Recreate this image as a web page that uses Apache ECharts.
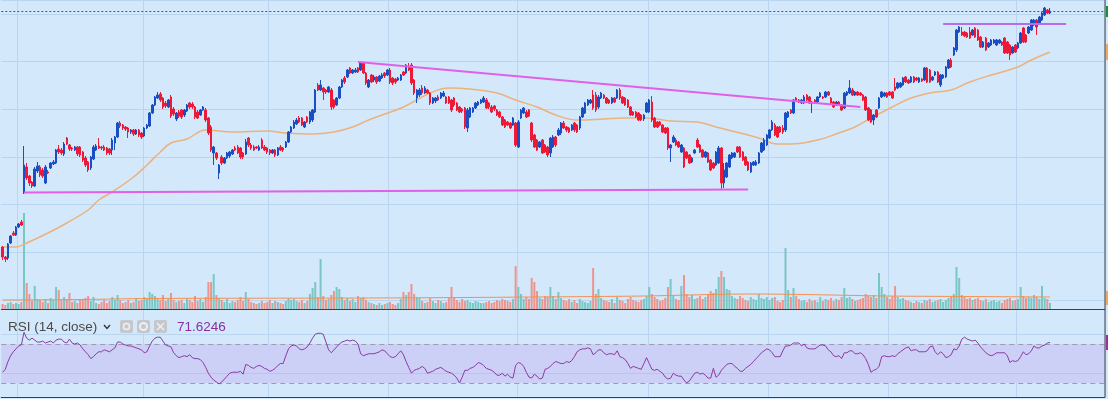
<!DOCTYPE html>
<html>
<head>
<meta charset="utf-8">
<script src="https://cdn.jsdelivr.net/npm/echarts@6.0.0/dist/echarts.min.js"></script>
<style>
  html, body { margin: 0; padding: 0; background: #d3e8fb; }
  #chart { width: 1108px; height: 399px; }
</style>
</head>
<body>
<div id="chart"></div>
<script>
// daily bars, [open, close, low, high]
const candles = [
  [53,43,40,54],[43,41,38,44],[42,56,40,57],[57,64,56,65],[67,65,64,69],[65,73,64,74],[73,76,72,77],[78,75,74,80],[107,135,106,154],[133,122,120,137],
  [124,117,114,125],[118,114,112,119],[114,131,113,133],[129,134,127,138],[133,125,123,135],[130,124,122,132],[117,133,116,135],[128,127,126,130],[132,137,131,138],[136,138,135,140],
  [137,150,136,151],[151,148,146,155],[150,147,145,152],[146,156,144,158],[162,156,155,163],[155,151,149,156],[152,151,149,153],[150,153,149,154],[153,146,144,154],[153,145,143,154],
  [148,140,138,149],[142,135,133,144],[138,130,128,139],[132,143,130,144],[141,153,140,155],[150,154,149,156],[154,152,151,162],[153,152,150,154],[153,150,149,155],[152,147,145,153],
  [151,147,145,152],[150,160,145,162],[157,163,150,164],[163,177,162,178],[177,174,172,179],[175,172,170,176],[173,171,169,174],[172,168,162,173],[168,170,166,171],[170,166,164,171],
  [166,170,165,171],[170,165,163,171],[167,163,161,168],[164,172,163,173],[172,175,171,176],[174,187,173,188],[187,195,186,196],[195,203,194,204],[202,205,201,208],[206,200,198,208],
  [202,193,191,203],[197,194,192,199],[193,200,192,201],[203,184,182,205],[191,186,184,193],[181,187,179,188],[188,184,182,190],[190,183,181,191],[185,190,183,191],[189,195,188,196],
  [197,193,191,198],[196,193,191,198],[193,183,181,194],[188,182,181,190],[185,190,184,191],[190,193,189,194],[190,180,178,192],[182,167,165,183],[173,150,148,175],[147,153,135,154],
  [147,142,140,148],[127,135,121,136],[143,137,135,145],[137,142,136,143],[142,147,141,148],[144,148,142,149],[146,150,145,151],[152,150,149,154],[153,147,146,155],[152,143,141,153],
  [147,143,141,148],[146,158,145,161],[162,155,153,163],[155,152,150,157],[153,150,149,155],[153,152,151,154],[150,153,149,155],[160,152,151,162],[153,150,149,155],[152,148,146,153],
  [150,147,145,151],[147,150,146,151],[150,145,143,151],[145,152,144,153],[153,150,149,155],[152,150,148,153],[153,158,152,159],[158,168,157,169],[168,173,167,174],[172,178,171,180],
  [176,180,175,182],[182,178,177,184],[182,175,174,183],[173,178,172,179],[183,178,177,184],[178,188,176,189],[180,190,178,191],[188,210,187,211],[215,210,209,217],[210,215,209,220],
  [212,208,200,213],[210,208,206,211],[208,213,207,214],[210,193,190,212],[200,193,191,201],[195,202,194,203],[202,213,201,214],[213,220,212,221],[222,218,216,224],[223,230,222,231],
  [232,227,226,233],[227,230,226,231],[228,230,227,232],[232,228,227,233],[230,237,229,238],[237,227,226,238],[227,217,215,228],[213,220,212,221],[225,218,217,226],[220,223,218,225],
  [223,218,216,224],[219,224,218,225],[222,225,221,227],[227,224,222,228],[225,230,224,231],[230,218,216,232],[222,217,215,223],[221,218,216,222],[220,222,219,223],[220,225,219,226],
  [228,225,224,229],[227,235,226,236],[233,230,229,237],[235,217,215,237],[220,207,205,221],[202,210,197,211],[205,210,203,212],[212,207,205,215],[207,212,206,214],[210,207,206,211],
  [207,197,195,208],[197,202,196,203],[199,202,197,203],[203,200,199,205],[202,207,201,208],[204,207,203,209],[203,197,196,204],[203,197,196,204],[200,190,188,201],[202,195,193,203],
  [197,190,189,198],[193,188,187,194],[191,189,187,192],[192,173,171,193],[172,190,168,192],[183,192,182,193],[188,192,187,193],[192,197,191,198],[195,198,194,199],[197,200,196,201],
  [198,202,197,204],[200,192,191,202],[197,193,191,198],[193,188,187,195],[194,191,189,195],[190,185,184,191],[188,183,182,189],[183,175,174,184],[180,173,172,181],[178,175,174,179],
  [177,172,171,178],[175,182,174,183],[177,155,153,178],[153,178,152,180],[182,190,181,191],[187,192,186,193],[188,183,182,190],[190,184,183,191],[177,160,158,178],[165,153,152,166],
  [160,150,149,161],[153,158,152,159],[160,147,146,161],[155,148,147,156],[153,145,143,154],[147,162,143,163],[153,163,152,165],[163,155,153,164],[165,170,164,172],[167,177,165,178],
  [177,172,171,179],[173,170,168,174],[172,168,167,173],[170,175,169,176],[177,170,168,178],[175,168,167,176],[172,183,170,184],[183,192,182,193],[187,197,186,198],[195,200,194,201],
  [197,200,196,201],[205,192,190,210],[205,190,188,208],[193,203,191,205],[202,207,201,208],[205,202,201,206],[202,197,196,203],[200,197,196,201],[197,202,196,203],[202,198,197,203],
  [202,210,201,211],[210,202,200,212],[203,197,196,204],[202,195,194,203],[200,193,192,201],[193,185,184,194],[188,185,184,189],[188,183,182,189],[187,180,179,188],[185,180,179,186],
  [181,185,179,186],[188,197,187,198],[188,200,187,201],[198,180,178,204],[182,173,172,183],[178,173,172,179],[178,175,174,179],[175,168,167,176],[172,167,166,173],[172,152,150,173],
  [152,155,138,156],[158,163,157,165],[160,155,154,162],[158,153,152,159],[148,155,147,156],[152,133,132,153],[148,142,141,149],[145,137,136,146],[138,142,137,143],[147,150,146,151],
  [160,153,152,162],[155,148,147,156],[150,143,142,151],[143,148,142,149],[147,138,137,148],[140,130,129,141],[137,132,131,138],[135,148,134,149],[137,152,136,154],[152,117,110,153],
  [117,130,112,137],[123,137,122,138],[133,145,132,146],[142,147,141,148],[143,147,142,148],[153,148,147,154],[153,143,142,154],[148,140,139,149],[143,135,134,144],[138,130,129,139],
  [128,137,127,138],[135,138,134,139],[135,138,134,140],[137,147,136,148],[148,157,147,158],[150,160,149,162],[155,165,154,166],[162,170,161,171],[170,178,169,180],[175,165,164,177],
  [173,163,162,174],[173,168,167,174],[172,168,166,175],[170,187,168,188],[183,188,182,189],[190,187,186,191],[187,200,186,201],[202,200,199,203],[200,198,197,201],[197,200,196,201],
  [197,203,196,205],[205,200,199,206],[203,197,196,204],[197,198,187,199],[200,197,196,201],[198,203,197,204],[203,207,202,208],[203,202,201,204],[203,208,202,209],[208,205,204,209],
  [202,197,196,203],[198,193,192,199],[195,198,194,199],[198,195,194,199],[195,190,189,196],[192,207,191,208],[205,208,204,209],[207,212,206,220],[210,205,204,212],[205,208,204,209],
  [208,205,204,209],[207,205,204,208],[205,200,199,206],[203,190,189,204],[192,180,179,193],[190,178,177,191],[180,185,175,186],[190,183,182,191],[192,202,191,203],[203,208,202,209],
  [204,207,203,208],[207,203,202,208],[208,205,204,209],[208,202,201,209],[213,210,209,222],[212,217,211,218],[213,217,212,218],[215,222,214,223],[223,218,217,224],[220,217,216,221],
  [218,223,217,224],[223,218,217,224],[222,220,219,223],[218,222,217,223],[221,219,218,222],[220,232,219,233],[232,218,217,233],[230,218,217,231],[220,223,219,224],[225,228,224,229],
  [228,218,217,229],[215,225,213,226],[222,225,221,226],[223,233,222,234],[232,240,231,241],[240,233,232,242],[245,252,244,253],[250,270,248,271],[268,273,267,274],[268,265,264,273],
  [268,264,263,269],[267,263,262,268],[268,262,261,273],[265,270,264,271],[272,263,262,273],[270,260,259,271],[263,253,252,264],[253,258,252,259],[262,250,249,263],[253,257,252,258],
  [255,260,254,261],[257,260,256,261],[255,260,254,261],[257,260,256,261],[258,255,254,259],[262,247,246,263],[258,247,246,259],[255,245,240,256],[247,253,246,254],[255,248,247,256],
  [252,257,251,258],[257,267,256,268],[272,258,257,273],[265,258,257,266],[267,273,266,274],[270,280,269,281],[275,280,274,281],[280,273,265,281],[277,283,276,284],[280,287,279,288],
  [285,292,284,293],[290,287,286,291],[287,289,286,292]
];

const volumes = [
  50,40,60,70,50,60,50,70,960,260, 150,80,230,100,90,70,100,60,110,90,
  220,190,90,120,100,160,70,80,60,90, 100,110,130,80,120,60,50,70,90,60,
  80,120,90,140,90,60,70,90,60,70, 110,80,90,120,100,170,150,130,110,90,
  140,80,100,160,90,70,80,90,60,100, 90,70,130,80,100,70,120,270,270,350,
  140,110,90,70,100,60,80,70,90,120, 80,170,100,70,60,50,60,80,60,70,
  90,60,80,70,60,50,80,110,90,100, 80,70,90,60,80,150,210,270,120,500,
  130,90,100,140,180,220,200,120,90,110, 80,100,70,130,110,120,90,70,60,50,
  40,60,40,50,60,70,50,40,60,100, 170,140,170,250,150,120,110,80,60,70,
  110,80,60,90,80,60,70,110,220,120, 90,70,100,80,90,70,60,80,70,60,
  60,70,80,60,70,90,80,100,90,80, 70,100,430,220,150,100,120,100,310,270,
  180,110,100,130,120,220,130,100,170,110, 90,80,100,70,90,60,100,80,70,60,
  80,410,150,200,110,90,80,70,100,60, 120,90,80,60,100,120,90,80,70,90,
  100,130,220,150,120,100,80,90,110,220, 300,130,100,90,230,340,150,120,140,100,
  110,130,100,120,150,180,160,200,320,380, 320,200,190,130,110,100,130,110,90,80,
  120,100,90,150,110,100,120,90,110,120, 80,70,90,610,190,120,210,130,100,80,
  90,70,100,80,90,70,120,80,100,90, 110,80,100,90,120,210,110,120,100,80,
  90,100,110,150,130,120,140,110,360,220, 150,120,100,130,230,120,100,110,90,80,
  70,60,80,70,60,90,80,100,70,80, 90,100,70,90,110,130,150,420,310,140,
  120,100,110,90,100,110,90,80,100,70, 80,90,70,80,60,90,100,110,80,90,
  100,220,130,110,120,110,140,120,100,230, 110,100,60
];

const rsi = [
  41,44,52,58,62,65,68,69,82,76, 74,76,74,72,72,73,71,72,73,71,
  74,75,75,72,71,75,71,70,71,69, 65,62,59,55,57,60,62,62,64,63,
  62,64,66,72,72,70,69,68,68,67, 66,65,64,61,62,68,73,76,77,77,
  73,69,68,67,61,58,56,57,58,57, 59,56,55,55,54,51,46,40,36,33,
  31,29,31,34,37,40,41,41,41,42, 39,49,48,46,45,47,48,47,45,44,
  42,43,45,48,50,50,58,65,68,69, 68,65,64,65,67,71,76,80,81,81,
  80,72,64,61,64,67,70,72,73,74, 73,74,73,70,60,58,59,60,60,60,
  61,62,64,63,60,57,56,57,60,63, 59,52,46,40,43,44,45,47,45,40,
  41,42,44,45,46,44,42,41,40,38, 35,30,36,43,43,45,46,48,51,50,
  48,45,44,43,41,38,38,40,37,39, 36,35,48,51,50,47,41,36,35,39,
  37,34,35,44,45,47,50,52,51,50, 50,52,51,53,57,62,64,65,65,66,
  65,59,61,64,64,61,59,60,60,59, 63,57,56,54,50,45,47,46,45,44,
  50,56,50,44,43,44,42,40,36,34, 35,40,38,37,37,33,30,32,36,40,
  41,39,40,38,35,35,45,36,38,43, 46,49,50,50,47,45,42,42,45,47,
  49,52,55,58,61,63,65,64,61,57, 57,57,63,68,68,69,71,71,71,68,
  70,66,65,65,65,67,69,69,68,64, 62,58,57,58,55,61,61,63,63,60,
  60,61,59,55,49,41,43,44,47,57, 58,57,57,58,57,60,62,64,66,67,
  63,64,64,62,62,62,63,67,68,62, 59,62,60,56,57,59,65,64,68,75,
  77,75,74,73,74,71,67,64,61,59, 58,59,61,61,61,61,58,51,53,52,
  53,57,62,59,60,63,68,66,66,68, 69,71,71.6246
];

// moving averages, [bar index, value]
const priceMa = [[0,53],[5,53],[9,57],[17,67],[24,77],[32,90],[36,100],[41,108],[49,123],[54,135],[59,148],[63,157],[69,161],[76,170],[86,168],[99,169],[106,167],[116,166],[124,168],[131,173],[137,180],[150,193],[160,207],[167,212],[175,211],[185,207],[192,200],[200,193],[207,185],[215,180],[225,181],[232,182],[241,182],[250,179],[260,178],[267,173],[276,167],[283,162],[290,156],[295,156],[305,160],[313,167],[319,173],[325,182],[333,193],[340,202],[347,207],[355,210],[362,218],[370,225],[380,233],[385,240],[392,248]];
const volumeMa = [[0,90],[30,95],[55,105],[137,110],[200,120],[240,130],[280,150],[300,145],[330,130],[360,125],[392,120]];

// hand drawn trend lines, [bar index, price]
const supportLine = [[8,107.5],[279,110.5]];
const resistanceLine = [[133,238],[321,193]];
const rangeTopLine = [[352,276],[398,276]];

const monthStarts = [6,53,100,145,193,242,287,332,380];
const slotCount = 413;   // bars plus empty space on the right
const priceStep = 47.67;

const categories = [];
for (let i = 0; i < slotCount; i++) categories.push(String(i));
const lastClose = candles[candles.length - 1][1];
const lastRsi = rsi[rsi.length - 1];

const BLUE = '#1a4fc4', RED = '#ec1a36';
const gridColor = '#b9d5ef';

const volumeData = volumes.map((v, i) => ({
  value: v,
  itemStyle: { color: candles[i][1] >= candles[i][0] ? '#79c7c4' : '#ec958e' }
}));

function monthly(idx) { return monthStarts.indexOf(idx) >= 0; }

const chart = echarts.init(document.getElementById('chart'));
chart.setOption({
  animation: false,
  backgroundColor: '#d3e8fb',
  grid: [
    { left: 1.3, width: 1103.5, top: 0, bottom: 99 },
    { left: 1.3, width: 1103.5, top: 0, bottom: 90 },
    { left: 1.3, width: 1103.5, top: 310, bottom: 2 }
  ],
  xAxis: [
    { type: 'category', gridIndex: 0, data: categories, axisLine: { show: false }, axisTick: { show: false }, axisLabel: { show: false }, splitLine: { show: false } },
    { type: 'category', gridIndex: 1, data: categories, axisLine: { show: true, lineStyle: { color: '#36424f', width: 1 } }, axisTick: { show: false }, axisLabel: { show: false },
      splitLine: { show: true, interval: monthly, lineStyle: { color: gridColor, width: 1 } } },
    { type: 'category', gridIndex: 2, data: categories, axisLine: { show: true, lineStyle: { color: '#36424f', width: 1 } }, axisTick: { show: false }, axisLabel: { show: false },
      splitLine: { show: true, interval: monthly, lineStyle: { color: gridColor, width: 1 } } }
  ],
  yAxis: [
    { type: 'value', gridIndex: 0, min: 0, max: 300, interval: priceStep, position: 'right',
      axisLine: { show: false }, axisTick: { show: false }, axisLabel: { show: false },
      splitLine: { show: true, lineStyle: { color: gridColor, width: 1 } } },
    { type: 'value', gridIndex: 1, min: 0, max: 3090, position: 'right',
      axisLine: { show: false }, axisTick: { show: false }, axisLabel: { show: false }, splitLine: { show: false } },
    { type: 'value', gridIndex: 2, min: 15.6, max: 104.9, position: 'right',
      axisLine: { show: false }, axisTick: { show: false }, axisLabel: { show: false }, splitLine: { show: false } }
  ],
  series: [
    {
      name: 'Volume', type: 'bar', xAxisIndex: 1, yAxisIndex: 1,
      data: volumeData, barWidth: 2, z: 1
    },
    {
      name: 'Volume MA', type: 'line', xAxisIndex: 1, yAxisIndex: 1,
      data: volumeMa, smooth: 0.3, symbol: 'none',
      lineStyle: { color: '#f3914e', width: 1 }, z: 2
    },
    {
      name: 'MA', type: 'line', xAxisIndex: 0, yAxisIndex: 0,
      data: priceMa, smooth: 0.4, symbol: 'none',
      lineStyle: { color: '#ebb27d', width: 1.5 }, z: 3
    },
    {
      name: 'Price', type: 'candlestick', xAxisIndex: 0, yAxisIndex: 0,
      data: candles, barWidth: 2, z: 4,
      itemStyle: { color: BLUE, color0: RED, borderColor: BLUE, borderColor0: RED, borderWidth: 1 },
      markLine: {
        silent: true, symbol: 'none', label: { show: false },
        data: [
          [{ coord: supportLine[0] }, { coord: supportLine[1] }],
          [{ coord: resistanceLine[0] }, { coord: resistanceLine[1] }],
          [{ coord: rangeTopLine[0], lineStyle: { color: '#b56ee6', width: 2, type: 'solid' } }, { coord: rangeTopLine[1] }],
          { yAxis: lastClose, lineStyle: { color: '#1f7a45', width: 1, type: [2, 2] } }
        ],
        lineStyle: { color: '#e060e6', width: 2, type: 'solid' }
      }
    },
    {
      name: 'RSI', type: 'line', xAxisIndex: 2, yAxisIndex: 2,
      data: rsi, symbol: 'none',
      lineStyle: { color: '#8b3aa3', width: 1 }, z: 5,
      markArea: {
        silent: true,
        itemStyle: { color: '#cdd0f6' },
        data: [[{ yAxis: 30 }, { yAxis: 70 }]]
      },
      markLine: {
        silent: true, symbol: 'none', label: { show: false },
        data: [
          { yAxis: 80, lineStyle: { color: gridColor, type: 'solid', width: 1 } },
          { yAxis: 40, lineStyle: { color: '#b9c3ec', type: 'solid', width: 1 } },
          { yAxis: 70, lineStyle: { color: '#9b9cb3', type: [5, 4], width: 1 } },
          { yAxis: 30, lineStyle: { color: '#9b9cb3', type: [5, 4], width: 1 } }
        ]
      }
    }
  ],
  graphic: [
    { type: 'line', shape: { x1: 1105, y1: 0, x2: 1105, y2: 397 }, style: { stroke: '#36424f', lineWidth: 1 }, z: 50 },
    { type: 'rect', shape: { x: 1106, y: 6, width: 4, height: 11 }, style: { fill: '#1e8a3c' }, z: 50 },
    { type: 'rect', shape: { x: 1106, y: 44, width: 4, height: 16 }, style: { fill: '#f0a85c' }, z: 50 },
    { type: 'rect', shape: { x: 1106, y: 291, width: 4, height: 14 }, style: { fill: '#f0a85c' }, z: 50 },
    { type: 'rect', shape: { x: 1106, y: 335, width: 4, height: 15 }, style: { fill: '#9c2f9c' }, z: 50 },
    { type: 'text', x: 8, y: 320, style: { text: 'RSI (14, close)', fill: '#4a4a4a', font: '13.5px "Liberation Sans", Arial, sans-serif' }, z: 50 },
    { type: 'polyline', shape: { points: [[104, 325], [107, 328.5], [110, 325]] }, style: { stroke: '#333', lineWidth: 1.3, fill: null }, z: 50 },
    { type: 'rect', shape: { x: 120, y: 320, width: 13, height: 13, r: 2 }, style: { fill: '#c4c8cc' }, z: 50 },
    { type: 'circle', shape: { cx: 126.5, cy: 326.5, r: 3 }, style: { stroke: '#eef0f2', lineWidth: 1.5, fill: null }, z: 51 },
    { type: 'rect', shape: { x: 137, y: 320, width: 13, height: 13, r: 2 }, style: { fill: '#c4c8cc' }, z: 50 },
    { type: 'circle', shape: { cx: 143.5, cy: 326.5, r: 3.5 }, style: { stroke: '#eef0f2', lineWidth: 2, fill: null }, z: 51 },
    { type: 'rect', shape: { x: 154, y: 320, width: 13, height: 13, r: 2 }, style: { fill: '#c4c8cc' }, z: 50 },
    { type: 'line', shape: { x1: 157, y1: 323, x2: 164, y2: 330 }, style: { stroke: '#eef0f2', lineWidth: 1.5 }, z: 51 },
    { type: 'line', shape: { x1: 164, y1: 323, x2: 157, y2: 330 }, style: { stroke: '#eef0f2', lineWidth: 1.5 }, z: 51 },
    { type: 'text', x: 177, y: 320, style: { text: lastRsi.toFixed(4), fill: '#8a2da3', font: '13.5px "Liberation Sans", Arial, sans-serif' }, z: 50 }
  ]
});
</script>
</body>
</html>
